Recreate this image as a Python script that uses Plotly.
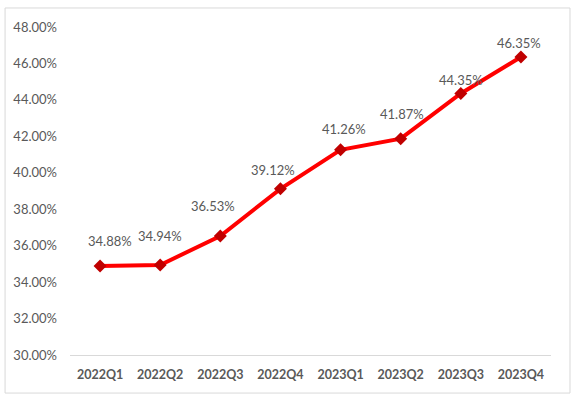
import plotly.graph_objects as go

categories = ["2022Q1", "2022Q2", "2022Q3", "2022Q4", "2023Q1", "2023Q2", "2023Q3", "2023Q4"]
values = [34.88, 34.94, 36.53, 39.12, 41.26, 41.87, 44.35, 46.35]
labels = [f"{v:.2f}%" for v in values]
ytick_vals = [30, 32, 34, 36, 38, 40, 42, 44, 46, 48]
ytick_text = [f"{v:.2f}%" for v in ytick_vals]

# label placement offsets (pixels) for the data labels
label_dx = [10, 0, -7, -7, 3, 1, 0, -2]
label_dy = [25, 29, 30, 19, 21, 25, 14, 14]

FONT = "Lato, Open Sans, Liberation Sans, sans-serif"

fig = go.Figure()
fig.add_trace(go.Scatter(
    x=categories, y=values, mode="lines+markers",
    line=dict(color="#FF0000", width=4),
    marker=dict(symbol="diamond", size=10, color="#C00000"),
    cliponaxis=False,
))

annotations = []
for c, v, t, dx, dy in zip(categories, values, labels, label_dx, label_dy):
    annotations.append(dict(
        x=c, y=v, text=t, showarrow=False, xshift=dx, yshift=dy,
        font=dict(family=FONT, size=13, color="#595959"),
    ))

fig.update_layout(
    width=574, height=399,
    margin=dict(l=70, r=23, t=27, b=44),
    paper_bgcolor="white", plot_bgcolor="white",
    showlegend=False,
    font=dict(family=FONT, color="#595959"),
    xaxis=dict(
        showgrid=False, showline=True, linecolor="#d9d9d9", linewidth=1,
        tickfont=dict(family=FONT, size=12.5, color="#595959", weight="bold"),
        ticks="", ticklabelstandoff=8, range=[-0.5, 7.5],
    ),
    yaxis=dict(
        range=[30, 48], tickvals=ytick_vals, ticktext=ytick_text,
        showgrid=False, zeroline=False, showline=False,
        tickfont=dict(family=FONT, size=13, color="#595959"),
        ticklabelstandoff=12,
    ),
    annotations=annotations,
    shapes=[dict(
        type="rect", xref="paper", yref="paper",
        x0=-0.135, x1=1.0395, y0=-0.116, y1=1.058,
        line=dict(color="#d9d9d9", width=1), fillcolor="rgba(0,0,0,0)", layer="below",
    )],
)

fig.write_html("out.html", config={"displayModeBar": False},
               post_script="document.body.style.margin='0px';")
